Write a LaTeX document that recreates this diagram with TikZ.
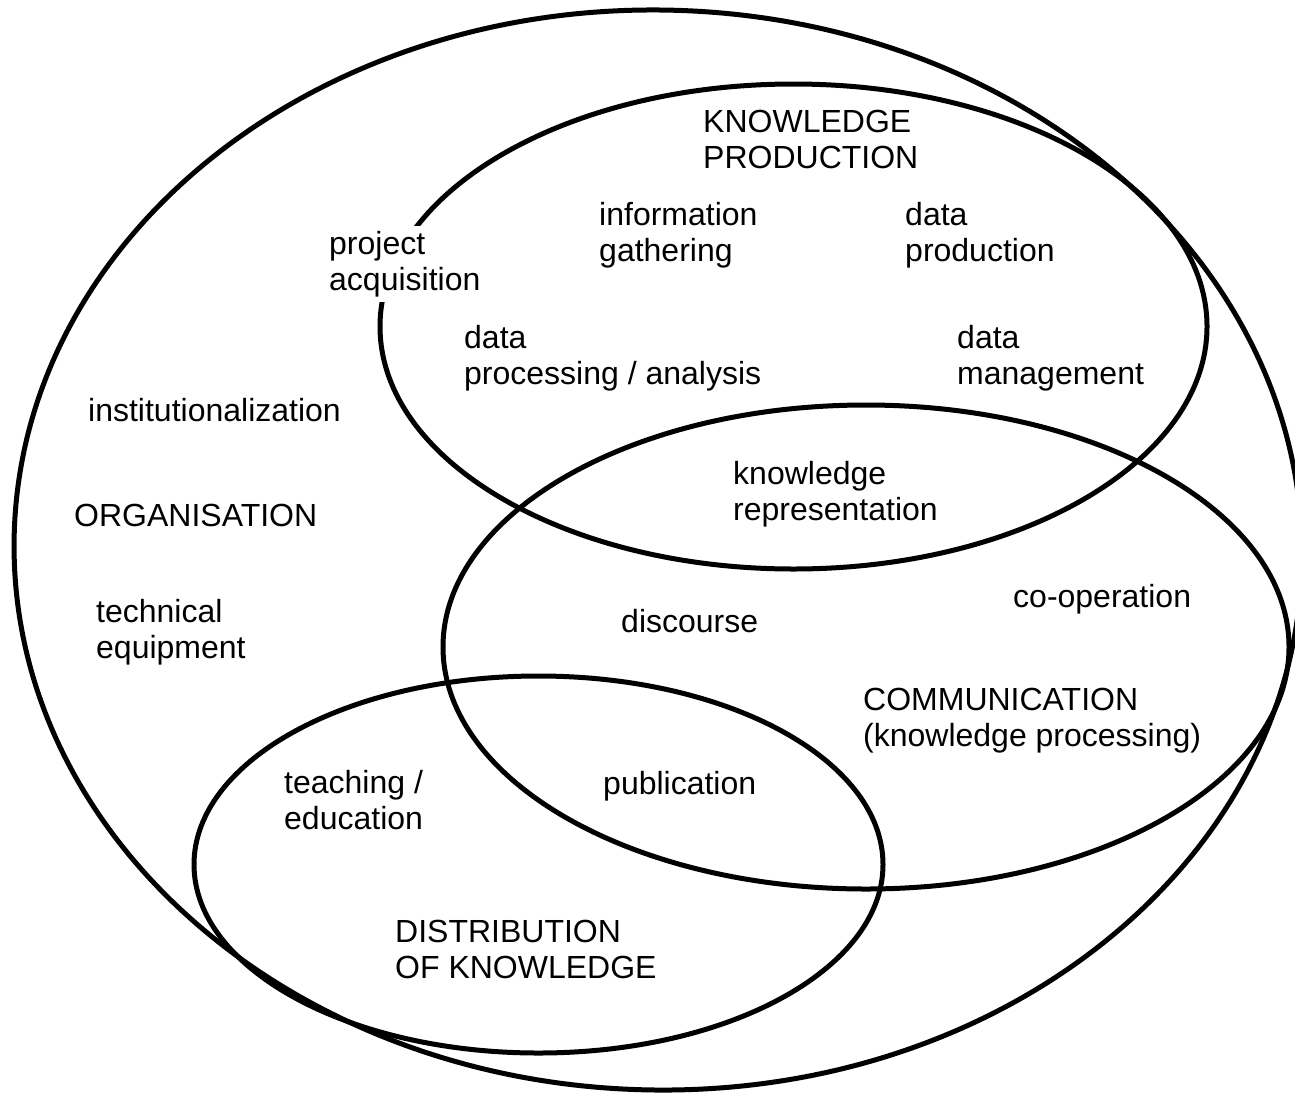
\documentclass[tikz,border=0pt]{standalone}
\usepackage{fontspec}
\setmainfont{Liberation Sans}
\newcommand{\lbst}{\rule{0pt}{23pt}}
\begin{document}
\begin{tikzpicture}[x=1pt,y=-1pt,
  ring/.style={draw=black,line width=5pt},
  lbl/.style={anchor=north west,inner sep=0pt,align=left,
    font=\fontsize{32}{36}\selectfont,text=black}]
\useasboundingbox[fill=white] (0,0) rectangle (1295,1093);
% ellipses
\draw[ring,rotate around={-1.2:(658,550)}] (658,550) coordinate (org) ellipse [x radius=644pt, y radius=540pt];
\draw[ring] (793.5,326.5) coordinate (kp) ellipse [x radius=413.5pt, y radius=242.5pt];
\draw[ring] (866,647) coordinate (com) ellipse [x radius=423pt, y radius=242pt];
\draw[ring] (538.5,864.5) coordinate (dk) ellipse [x radius=344.5pt, y radius=188.5pt];
% labels
\node[lbl] (tkp) at (703,109) {\lbst KNOWLEDGE\\PRODUCTION};
\node[lbl] (tinf) at (599,202) {\lbst information\\gathering};
\node[lbl] (tdprod) at (905,202) {\lbst data\\production};
\node[lbl,fill=white,inner sep=5pt] (tproj) at (324,226) {\lbst project\\acquisition};
\node[lbl] (tdproc) at (464,325) {\lbst data\\processing / analysis};
\node[lbl] (tdman) at (957,325) {\lbst data\\management};
\node[lbl] (tinst) at (88,398) {\lbst institutionalization};
\node[lbl] (trep) at (733,461) {\lbst knowledge\\representation};
\node[lbl] (torg) at (74,503) {\lbst ORGANISATION};
\node[lbl] (tcoop) at (1013,584) {\lbst co-operation};
\node[lbl] (tdisc) at (621,609) {\lbst discourse};
\node[lbl] (ttech) at (96,599) {\lbst technical\\equipment};
\node[lbl] (tcom) at (863,687) {\lbst COMMUNICATION\\(knowledge processing)};
\node[lbl] (tteach) at (284,770) {\lbst teaching /\\education};
\node[lbl] (tpub) at (603,771) {\lbst publication};
\node[lbl] (tdist) at (395,919) {\lbst DISTRIBUTION\\OF KNOWLEDGE};
\end{tikzpicture}
\end{document}
